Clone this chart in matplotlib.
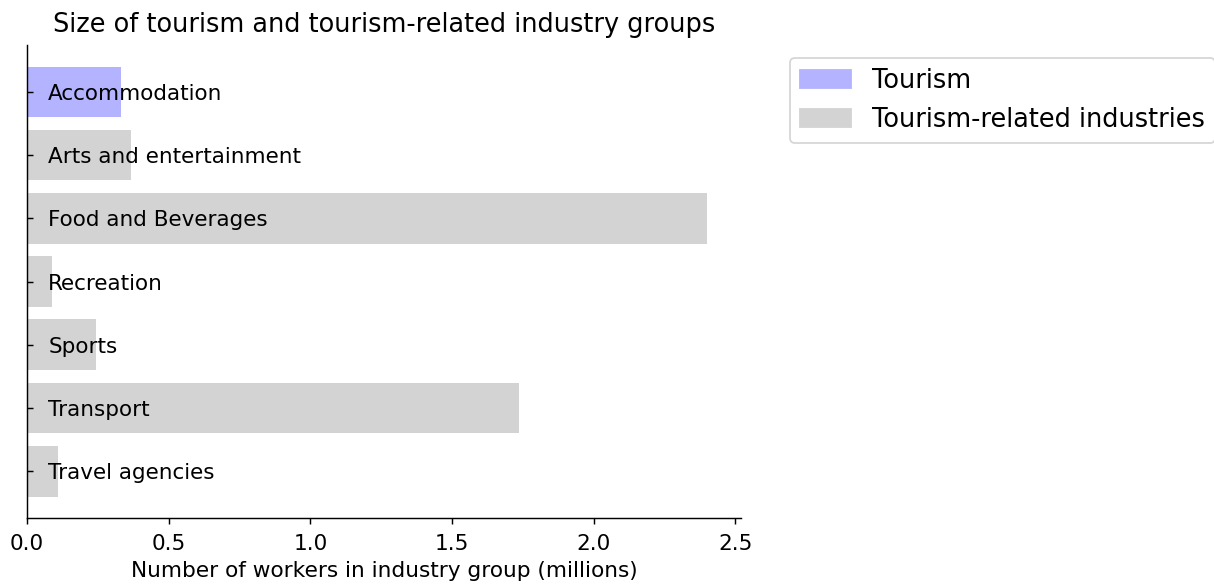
import matplotlib
matplotlib.use("Agg")
import matplotlib.pyplot as plt
from matplotlib.patches import Patch

groups = ["Accommodation", "Arts and entertainment", "Food and Beverages",
          "Recreation", "Sports", "Transport", "Travel agencies"]
workers = [0.332, 0.367, 2.40, 0.088, 0.244, 1.737, 0.109]
is_tourism = [True, False, False, False, False, False, False]

c_tour = "#b3b3ff"
c_rel = "#d3d3d3"

W, H, dpi = 1214, 584, 130
fig = plt.figure(figsize=(W/dpi, H/dpi), dpi=dpi)
ax = fig.add_axes([27/W, 1-518/H, (741-27)/W, (518-45)/H])

cols = [c_tour if t else c_rel for t in is_tourism]
ax.barh(range(len(groups)), workers, color=cols, height=0.8)
for i, g in enumerate(groups):
    ax.text(0.075, i, g, va="center_baseline", fontsize=11.9)
ax.invert_yaxis()
ax.set_yticks(range(len(groups)))
ax.set_yticklabels([])
ax.tick_params(axis="y", direction="in")
ax.tick_params(axis="x", pad=5.5)
ax.set_xlim(0, 2.52)
ax.tick_params(labelsize=12)
ax.spines["top"].set_visible(False)
ax.spines["right"].set_visible(False)
ax.set_xlabel("Number of workers in industry group (millions)", fontsize=12)
ax.set_title("Size of tourism and tourism-related industry groups", fontsize=14.2, pad=7)

handles = [Patch(color=c_tour, label="Tourism"),
           Patch(color=c_rel, label="Tourism-related industries")]
ax.legend(handles=handles, loc="upper left", bbox_to_anchor=(1.05, 1), fontsize=14.2)

fig.savefig("out.png")
